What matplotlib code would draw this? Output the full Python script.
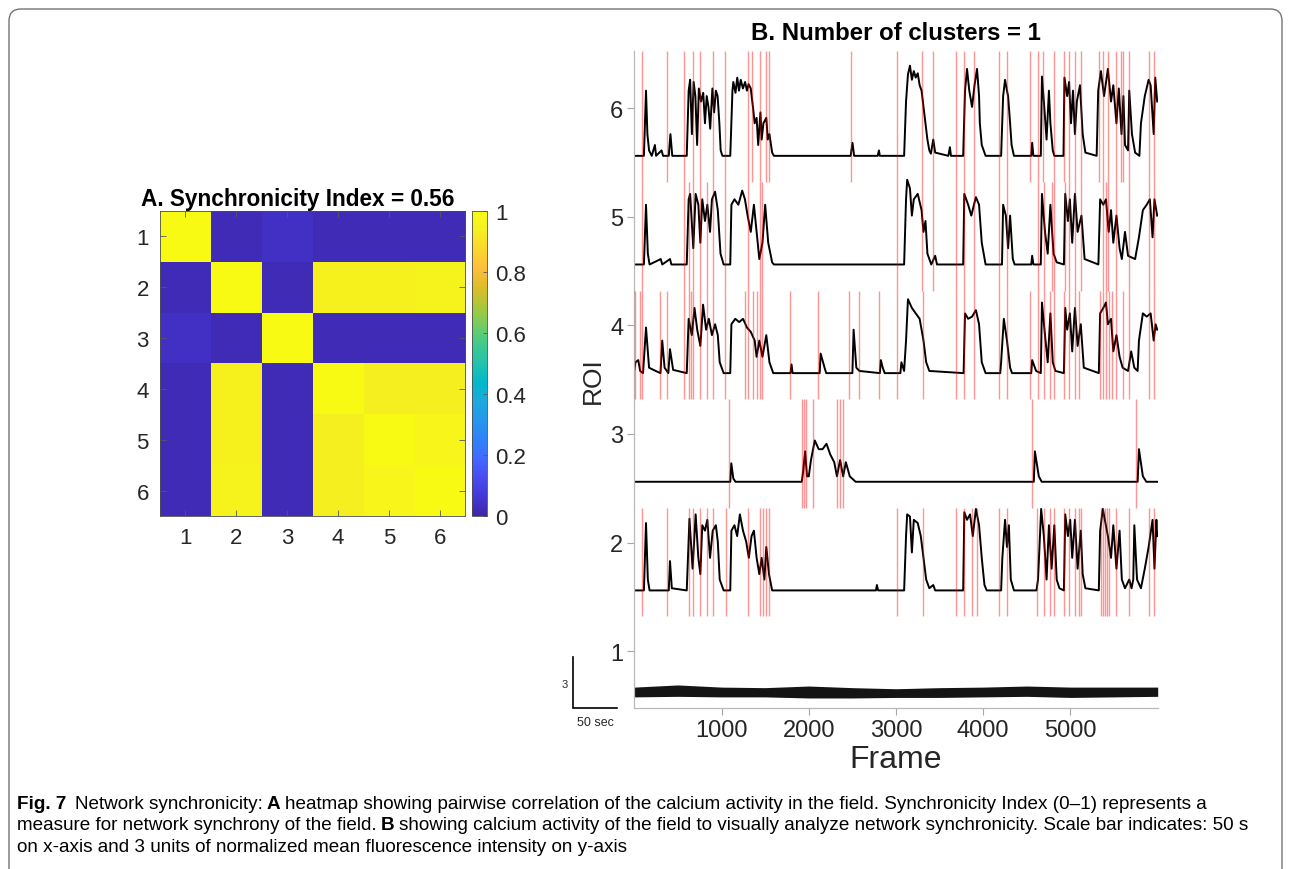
import numpy as np
import matplotlib
matplotlib.use("Agg")
import matplotlib.pyplot as plt
from matplotlib.colors import LinearSegmentedColormap
from matplotlib.patches import FancyBboxPatch
from matplotlib.transforms import IdentityTransform

# ---------------- data ----------------
roi_labels = [1, 2, 3, 4, 5, 6]
corr_row1 = [1.00, 0.02, 0.04, 0.02, 0.02, 0.02]
corr_row2 = [0.02, 1.00, 0.02, 0.95, 0.95, 0.955]
corr_row3 = [0.04, 0.02, 1.00, 0.02, 0.02, 0.02]
corr_row4 = [0.02, 0.95, 0.02, 1.00, 0.94, 0.94]
corr_row5 = [0.02, 0.95, 0.02, 0.94, 1.00, 0.97]
corr_row6 = [0.02, 0.955, 0.02, 0.94, 0.97, 1.00]
cbar_ticks = [0, 0.2, 0.4, 0.6, 0.8, 1]
cbar_labels = ["0", "0.2", "0.4", "0.6", "0.8", "1"]
sync_index = 0.56
n_clusters = 1
frame_ticks = [1000, 2000, 3000, 4000, 5000]

# traces: (frame, height above baseline)
roi6_trace = [(0,0),(110,0),(134,0.6),(150,0.2),(169,0.05),(200,0),(236,0.1),(250,0),(312,0.05),(330,0),
    (395,0),(414,0.2),(435,0),(601,0),(623,0.6),(640,0.7),(660,0.2),(680,0.68),(700,0.55),(720,0.1),
    (740,0.62),(765,0.5),(790,0.58),(810,0.3),(830,0.55),(850,0.45),(870,0.25),(895,0.62),(915,0.4),
    (935,0.6),(955,0.55),(975,0.3),(990,0.05),(1010,0),(1100,0),(1125,0.6),(1135,0.68),(1160,0.58),
    (1180,0.72),(1200,0.6),(1220,0.7),(1245,0.62),(1270,0.68),(1291,0.6),(1310,0.66),(1335,0.62),
    (1360,0.45),(1380,0.3),(1402,0.35),(1420,0.1),(1446,0.4),(1460,0.15),(1480,0.3),(1513,0.35),
    (1530,0.15),(1549,0.2),(1580,0.03),(1600,0),(2480,0),(2501,0.12),(2520,0),(2790,0),(2804,0.05),
    (2815,0),(3093,0),(3115,0.5),(3137,0.75),(3160,0.83),(3182,0.7),(3204,0.78),(3226,0.72),(3249,0.76),
    (3271,0.65),(3293,0.6),(3315,0.45),(3338,0.3),(3360,0.15),(3382,0.05),(3400,0.02),(3427,0.15),
    (3449,0.03),(3600,0),(3618,0.08),(3630,0),(3770,0),(3791,0.6),(3814,0.8),(3840,0.6),(3872,0.45),
    (3900,0.65),(3929,0.8),(3952,0.55),(3961,0.3),(3983,0.1),(4027,0),(4205,0),(4228,0.55),(4250,0.7),
    (4272,0.6),(4285,0.55),(4308,0.3),(4325,0.1),(4352,0),(4550,0),(4561,0.12),(4575,0),(4660,0),
    (4673,0.73),(4695,0.5),(4726,0.15),(4753,0.6),(4770,0.3),(4797,0.05),(4815,0),(4920,0),(4931,0.72),
    (4962,0.55),(4984,0.68),(5006,0.3),(5029,0.6),(5051,0.2),(5073,0.5),(5109,0.65),(5140,0.2),
    (5171,0.03),(5300,0),(5318,0.6),(5349,0.78),(5385,0.55),(5429,0.8),(5465,0.5),(5491,0.65),(5527,0.3),
    (5554,0.62),(5585,0.2),(5607,0.55),(5625,0.1),(5660,0.05),(5674,0.6),(5705,0.2),(5741,0.03),
    (5790,0),(5808,0.3),(5852,0.55),(5896,0.7),(5919,0.65),(5954,0.2),(5972,0.72),(5994,0.5)]

roi5_trace = [(0,0),(110,0),(134,0.55),(155,0.1),(175,0),(303,0.05),(320,0),(409,0.05),(425,0),(601,0),
    (623,0.6),(640,0.65),(676,0.15),(703,0.65),(734,0.55),(757,0.2),(779,0.6),(810,0.4),(837,0.55),
    (868,0.3),(890,0.6),(926,0.67),(957,0.5),(988,0.1),(1024,0),(1100,0),(1113,0.55),(1148,0.6),
    (1193,0.55),(1237,0.68),(1268,0.6),(1299,0.45),(1335,0.3),(1371,0.55),(1402,0.3),(1433,0.05),
    (1469,0.2),(1500,0.55),(1535,0.2),(1580,0.02),(1600,0),(3093,0),(3115,0.6),(3128,0.78),(3160,0.7),
    (3182,0.45),(3204,0.6),(3249,0.65),(3293,0.5),(3315,0.3),(3338,0.4),(3360,0.1),(3404,0),(3449,0.08),
    (3470,0),(3770,0),(3783,0.65),(3827,0.55),(3863,0.45),(3916,0.62),(3952,0.55),(3983,0.2),(4027,0),
    (4215,0),(4228,0.55),(4259,0.45),(4285,0.15),(4308,0.45),(4339,0.05),(4360,0),(4550,0),(4561,0.08),
    (4575,0),(4660,0),(4673,0.65),(4708,0.3),(4739,0.1),(4770,0.55),(4806,0.1),(4842,0.02),(4925,0),
    (4940,0.65),(4971,0.4),(4993,0.6),(5020,0.2),(5051,0.65),(5082,0.3),(5126,0.45),(5162,0.05),
    (5320,0),(5340,0.6),(5376,0.55),(5407,0.6),(5438,0.3),(5465,0.5),(5491,0.2),(5527,0.45),(5563,0.15),
    (5589,0.05),(5625,0.3),(5660,0.08),(5741,0.05),(5785,0.25),(5830,0.5),(5874,0.55),(5910,0.6),
    (5941,0.25),(5963,0.6),(5994,0.45)]

roi4_trace = [(0,0.03),(13,0.1),(45,0.12),(67,0.02),(100,0),(134,0.42),(169,0.05),(245,0.02),(300,0),
    (320,0.3),(347,0.05),(390,0),(409,0.22),(445,0.03),(601,0),(623,0.5),(659,0.35),(690,0.6),(721,0.4),
    (757,0.25),(788,0.63),(823,0.4),(854,0.5),(890,0.35),(926,0.45),(957,0.35),(979,0.1),(1024,0),
    (1100,0),(1113,0.45),(1157,0.5),(1202,0.47),(1246,0.5),(1291,0.42),(1335,0.38),(1380,0.3),
    (1402,0.15),(1433,0.3),(1469,0.15),(1513,0.35),(1549,0.1),(1593,0),(1790,0),(1802,0.08),(1815,0),
    (2125,0),(2136,0.18),(2181,0.05),(2200,0),(2500,0),(2514,0.4),(2545,0.05),(2581,0.02),(2815,0),
    (2826,0.12),(2848,0.05),(2870,0),(3050,0),(3062,0.1),(3093,0.02),(3115,0.3),(3137,0.68),(3182,0.6),
    (3226,0.55),(3271,0.5),(3315,0.3),(3346,0.1),(3382,0.02),(3775,0),(3791,0.55),(3827,0.5),
    (3872,0.52),(3916,0.58),(3952,0.45),(3983,0.1),(4027,0),(4195,0),(4205,0.1),(4236,0.5),(4272,0.3),
    (4308,0.05),(4330,0),(4550,0),(4561,0.12),(4606,0.02),(4660,0),(4673,0.65),(4708,0.35),(4739,0.1),
    (4770,0.55),(4797,0.1),(4828,0.02),(4925,0),(4940,0.6),(4962,0.4),(4993,0.55),(5020,0.2),(5051,0.6),
    (5082,0.25),(5118,0.45),(5153,0.05),(5325,0),(5340,0.55),(5376,0.6),(5407,0.65),(5429,0.45),
    (5465,0.5),(5491,0.2),(5527,0.35),(5563,0.15),(5598,0.05),(5660,0.02),(5696,0.2),(5732,0.05),
    (5770,0.02),(5785,0.3),(5830,0.55),(5874,0.52),(5919,0.55),(5954,0.3),(5976,0.45),(5994,0.4)]

roi3_trace = [(0,0),(1100,0),(1112,0.17),(1135,0.03),(1160,0),(1920,0),(1936,0.1),(1958,0.28),(1980,0.05),
    (2000,0.05),(2025,0.2),(2069,0.38),(2114,0.3),(2158,0.3),(2203,0.35),(2247,0.25),(2292,0.18),
    (2323,0.05),(2359,0.2),(2394,0.05),(2425,0.18),(2470,0.05),(2537,0),(4580,0),(4592,0.28),(4637,0.05),
    (4670,0),(5770,0),(5785,0.3),(5830,0.05),(5870,0),(6000,0)]

roi2_trace = [(0,0),(110,0),(134,0.62),(155,0.1),(175,0),(395,0),(409,0.27),(430,0.02),(601,0),(632,0.66),
    (668,0.2),(703,0.7),(734,0.3),(757,0.15),(779,0.6),(810,0.55),(837,0.65),(868,0.3),(899,0.55),
    (935,0.6),(957,0.45),(979,0.1),(1024,0),(1100,0),(1113,0.55),(1148,0.6),(1179,0.5),(1210,0.7),
    (1246,0.55),(1282,0.45),(1313,0.3),(1344,0.5),(1371,0.55),(1402,0.3),(1433,0.15),(1460,0.3),
    (1491,0.1),(1513,0.4),(1544,0.15),(1580,0),(2770,0),(2781,0.05),(2795,0),(3093,0),(3115,0.5),
    (3128,0.7),(3160,0.68),(3182,0.35),(3204,0.65),(3249,0.62),(3284,0.5),(3315,0.3),(3346,0.1),
    (3382,0.02),(3427,0.05),(3449,0),(3770,0),(3783,0.72),(3814,0.65),(3849,0.7),(3880,0.5),(3916,0.75),
    (3952,0.6),(3983,0.3),(4014,0.05),(4040,0),(4205,0),(4219,0.3),(4250,0.65),(4272,0.4),(4294,0.6),
    (4316,0.1),(4352,0),(4610,0),(4628,0.1),(4664,0.75),(4695,0.5),(4726,0.1),(4753,0.6),(4784,0.2),
    (4815,0.6),(4842,0.1),(4873,0.02),(4925,0),(4940,0.7),(4971,0.5),(4997,0.65),(5020,0.3),(5051,0.65),
    (5082,0.2),(5118,0.55),(5140,0.15),(5171,0.02),(5325,0),(5340,0.55),(5371,0.75),(5394,0.65),
    (5429,0.5),(5465,0.3),(5491,0.6),(5527,0.2),(5563,0.55),(5589,0.1),(5625,0.02),(5674,0.1),
    (5700,0.02),(5720,0.1),(5732,0.6),(5763,0.1),(5808,0.02),(5852,0.2),(5896,0.4),(5941,0.65),
    (5963,0.2),(5985,0.65),(5994,0.5)]

# ROI 1: noise band only (envelope)
roi1_env_frames = [0, 500, 1000, 1500, 2000, 2500, 3000, 3500, 4000, 4500, 5000, 5500, 6000]
roi1_env_upper = [0.05, 0.07, 0.05, 0.045, 0.06, 0.045, 0.035, 0.045, 0.05, 0.06, 0.05, 0.05, 0.05]
roi1_env_lower = [-0.04, -0.035, -0.04, -0.04, -0.05, -0.05, -0.045, -0.045, -0.04, -0.035, -0.045, -0.04, -0.035]

# detected events (red lines), frames
roi6_events = [89, 378, 570, 668, 748, 903, 1037, 1304, 1348, 1446, 1513, 1549, 2483, 3008, 3293, 3427,
    3685, 3783, 3894, 4183, 4272, 4539, 4628, 4681, 4815, 4931, 4984, 5051, 5118, 5331, 5376, 5429,
    5527, 5576, 5607, 5674, 5896, 5963]
roi5_events = [89, 570, 623, 668, 748, 837, 903, 1037, 1304, 1446, 1469, 3008, 3293, 3427, 3685, 3783,
    3894, 4183, 4272, 4628, 4695, 4784, 4806, 4940, 4984, 5051, 5118, 5376, 5407, 5429, 5527, 5674,
    5896, 5963]
roi4_events = [13, 67, 89, 289, 378, 570, 623, 645, 668, 748, 837, 903, 1037, 1268, 1304, 1366, 1402,
    1446, 1469, 1780, 2105, 2461, 2581, 2804, 3008, 3315, 3685, 3783, 3894, 4183, 4272, 4539, 4628,
    4695, 4770, 4815, 4931, 4984, 5051, 5095, 5340, 5376, 5407, 5438, 5474, 5527, 5598, 5674, 5896, 5963]
roi3_events = [1081, 1922, 1949, 1971, 2051, 2327, 2354, 2390, 4561, 5754]
roi2_events = [89, 378, 623, 668, 748, 837, 903, 1055, 1304, 1446, 1477, 1513, 1549, 3008, 3306, 3685,
    3783, 3872, 3925, 4183, 4272, 4619, 4695, 4770, 4815, 4926, 4984, 5051, 5095, 5118, 5354, 5376,
    5394, 5421, 5438, 5527, 5674, 5896, 5963]
roi1_events = []

caption_line1 = [("Fig. 7", True), ("Network synchronicity:", False), ("A", True),
    ("heatmap showing pairwise correlation of the calcium activity in the field. Synchronicity Index (0\u20131) represents a", False)]
caption_line2 = [("measure for network synchrony of the field.", False), ("B", True),
    ("showing calcium activity of the field to visually analyze network synchronicity. Scale bar indicates: 50 s", False)]
caption_line3 = [("on x-axis and 3 units of normalized mean fluorescence intensity on y-axis", False)]

# ---------------- style ----------------
plt.rcParams['font.family'] = ['Liberation Sans', 'DejaVu Sans']
W, H = 1291, 870
fig = plt.figure(figsize=(W / 100, H / 100), dpi=100)

parula_anchors = [
    (0.2422, 0.1504, 0.6603), (0.2706, 0.2147, 0.8364), (0.2813, 0.3006, 0.9414), (0.2602, 0.4123, 0.9952),
    (0.1834, 0.5074, 0.9798), (0.1540, 0.5902, 0.9218), (0.1113, 0.6635, 0.8763), (0.0036, 0.7203, 0.7917),
    (0.1408, 0.7584, 0.6842), (0.2470, 0.7918, 0.5567), (0.4456, 0.8024, 0.3909), (0.6720, 0.7793, 0.2227),
    (0.8634, 0.7406, 0.1596), (0.9956, 0.7434, 0.2371), (0.9786, 0.8386, 0.1766), (0.9628, 0.9373, 0.1265),
    (0.9769, 0.9839, 0.0805)]
parula = LinearSegmentedColormap.from_list("parula", parula_anchors, N=256)

txt_col = '#262626'

# ---------------- panel A ----------------
corr = np.array([corr_row1, corr_row2, corr_row3, corr_row4, corr_row5, corr_row6])
axA = fig.add_axes([160 / W, 1 - 517 / H, 305 / W, 305 / H])
im = axA.imshow(corr, cmap=parula, vmin=0, vmax=1, aspect='auto', interpolation='nearest',
                extent=(0.5, 6.5, 6.5, 0.5))
axA.set_xticks(roi_labels)
axA.set_yticks(roi_labels)
axA.set_xticklabels([str(r) for r in roi_labels])
axA.set_yticklabels([str(r) for r in roi_labels])
axA.tick_params(direction='in', top=True, right=True, length=4, width=0.6, color='0.35',
                labelsize=16, labelcolor=txt_col, pad=8)
for s in axA.spines.values():
    s.set_linewidth(0.6)
    s.set_color('0.3')
axA.set_title(f"A. Synchronicity Index = {sync_index:.2f}", fontsize=16.3, fontweight='bold',
              color='black', pad=4, x=0.452)

cax = fig.add_axes([472 / W, 1 - 517 / H, 15 / W, 305 / H])
cb = fig.colorbar(im, cax=cax, ticks=cbar_ticks)
cb.ax.set_yticklabels(cbar_labels)
cb.ax.tick_params(direction='in', length=3, width=0.6, color='0.35', labelsize=16,
                  labelcolor=txt_col, pad=6)
cb.outline.set_linewidth(0.6)
cb.outline.set_edgecolor('0.3')

# ---------------- panel B ----------------
axB = fig.add_axes([634.4 / W, 1 - 709.3 / H, 523.3 / W, 657.3 / H])
ylo, yhi = 0.475, 6.525
axB.set_xlim(1, 6000)
axB.set_ylim(ylo, yhi)

traces = {2: roi2_trace, 3: roi3_trace, 4: roi4_trace, 5: roi5_trace, 6: roi6_trace}
events = {1: roi1_events, 2: roi2_events, 3: roi3_events, 4: roi4_events, 5: roi5_events, 6: roi6_events}
base_off = 0.44

# ROI 1 noise band
env_f = np.array(roi1_env_frames)
b1 = 1 - 0.38
axB.fill_between(env_f, b1 + np.array(roi1_env_lower), b1 + np.array(roi1_env_upper),
                 color='0.08', lw=0, zorder=2)

for roi, tr in traces.items():
    f = np.array([p[0] for p in tr])
    h = np.array([p[1] for p in tr])
    axB.plot(f, roi - base_off + h, color='black', lw=1.4, zorder=2)

for roi, ev in events.items():
    if not ev:
        continue
    bot = roi - 0.68
    top = yhi if roi == 6 else roi + 0.32
    axB.vlines(ev, bot, top, colors='red', lw=1.0, alpha=0.42, zorder=3)

axB.set_xticks(frame_ticks)
axB.set_yticks(roi_labels)
axB.spines['top'].set_visible(False)
axB.spines['right'].set_visible(False)
for s in ('left', 'bottom'):
    axB.spines[s].set_color('0.72')
    axB.spines[s].set_linewidth(0.9)
axB.tick_params(direction='out', length=5, width=0.8, color='0.65', labelsize=17,
                labelcolor=txt_col, pad=3)
axB.set_xlabel('Frame', fontsize=23, color=txt_col, labelpad=2)
axB.set_ylabel('ROI', fontsize=19, color=txt_col, labelpad=4)
axB.set_title(f"B. Number of clusters = {n_clusters}", fontsize=17.3, fontweight='bold',
              color='black', pad=9)

# scale bar (50 sec = 500 frames horizontally, 3 units vertically)
axB.plot([-700, -700, -200], [ylo + 0.47, ylo, ylo], color='black', lw=1.2, clip_on=False,
         solid_joinstyle='miter')
axB.text(-830, ylo + 0.22, '3', fontsize=8, color=txt_col, ha='left', va='center')
axB.text(-450, ylo - 0.07, '50 sec', fontsize=9, color=txt_col, ha='center', va='top')

# ---------------- caption + frame ----------------
cap_font = ['Liberation Sans', 'DejaVu Sans']
cap_size = 13.55
axC = fig.add_axes([0, 0, 1, 1], zorder=-5)
axC.axis('off')
axC.set_xlim(0, W)
axC.set_ylim(H, 0)

def caption_line(pieces, y):
    prev = None
    for k, (t, bold) in enumerate(pieces):
        kw = dict(fontsize=cap_size, family=cap_font, color='black',
                  fontweight='bold' if bold else 'normal')
        if prev is None:
            prev = axC.text(17, y, t, ha='left', va='baseline', **kw)
        else:
            gap = 6.0 if k == 1 and pieces[0][0].startswith('Fig') else 3.0
            prev = axC.annotate(t, xy=(1, 0), xycoords=prev, xytext=(gap, 0),
                                textcoords='offset points', ha='left', va='bottom', **kw)

caption_line(caption_line1, 809)
caption_line(caption_line2, 830.5)
caption_line(caption_line3, 852)

border = FancyBboxPatch((9, -20), 1273, 880,
                        boxstyle="round,pad=0,rounding_size=12",
                        transform=IdentityTransform(), fill=False, edgecolor='0.45', lw=1.0)
fig.patches.append(border)

fig.savefig('out.png', dpi=100)
